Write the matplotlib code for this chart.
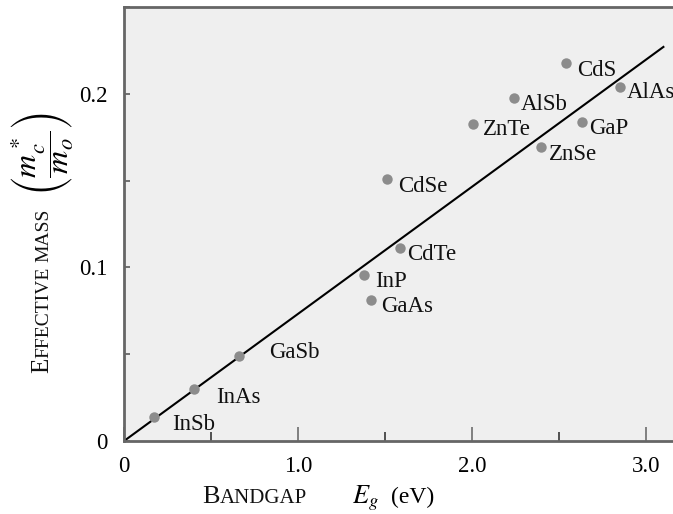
import matplotlib
matplotlib.use('Agg')
import matplotlib.pyplot as plt
import matplotlib.transforms as mtransforms
from matplotlib.ticker import MultipleLocator

plt.rcParams['font.family'] = ['Liberation Serif', 'DejaVu Serif']
plt.rcParams['mathtext.fontset'] = 'stix'

compounds = ['InSb', 'InAs', 'GaSb', 'InP', 'GaAs', 'CdTe', 'CdSe',
             'ZnTe', 'AlSb', 'ZnSe', 'CdS', 'GaP', 'AlAs']
bandgap = [0.174, 0.402, 0.661, 1.381, 1.420, 1.586, 1.513,
           2.007, 2.241, 2.395, 2.539, 2.630, 2.851]
eff_mass = [0.0139, 0.0302, 0.0488, 0.0954, 0.0815, 0.1113, 0.1508,
            0.1825, 0.1973, 0.1694, 0.2177, 0.1835, 0.2037]
fit_x = [0.0, 3.1]
fit_y = [0.0, 0.227]

# label offsets from the dot, in pixels
label_offset = {
    'InSb': (18, -8), 'InAs': (22, -9), 'GaSb': (30, 4), 'InP': (11, -6),
    'GaAs': (10, -7), 'CdTe': (7, -7), 'CdSe': (11, -7), 'ZnTe': (10, -5),
    'AlSb': (7, -6), 'ZnSe': (8, -8), 'CdS': (11, -7), 'GaP': (8, -6),
    'AlAs': (7, -5),
}

W, H = 673, 514
fig = plt.figure(figsize=(W / 100, H / 100), dpi=100)
ax = fig.add_axes([124 / W, 73 / H, 3.2 * 174 / W, 434 / H])
ax.set_facecolor('#efefef')

ax.plot(fit_x, fit_y, color='black', lw=1.5, zorder=2)
ax.plot(bandgap, eff_mass, 'o', color='#8c8c8c', ms=7.5, mec='none', zorder=3)
for name, x, y in zip(compounds, bandgap, eff_mass):
    dx, dy = label_offset[name]
    ax.annotate(name, (x, y), xytext=(dx, dy), textcoords='offset pixels',
                ha='left', va='center', fontsize=16.5, color='#111111')

ax.set_xlim(0, 3.2)
ax.set_ylim(0, 0.25)
ax.xaxis.set_minor_locator(MultipleLocator(0.5))
ax.yaxis.set_minor_locator(MultipleLocator(0.05))
ax.set_xticks([0, 1, 2, 3])
ax.set_xticklabels(['0', '1.0', '2.0', '3.0'])
ax.set_yticks([0, 0.1, 0.2])
ax.set_yticklabels(['0', '0.1', '0.2'])
ax.tick_params(axis='x', which='major', direction='in', length=10, width=1.3,
               color='#777777', labelsize=16.5, pad=11)
ax.tick_params(axis='x', which='minor', direction='in', length=6.5, width=1.3,
               color='#444444')
ax.tick_params(axis='y', which='both', direction='in', length=4.5, width=1.3,
               color='#666666', labelsize=16.5, pad=12)
for side in ['left', 'bottom', 'top', 'right']:
    ax.spines[side].set_color('#666666')
    ax.spines[side].set_linewidth(2)

renderer = fig.canvas.get_renderer()
pix = mtransforms.IdentityTransform()


def caps_label(x, y, parts, vertical=False):
    # lay out pieces one after another so small caps can be faked
    for s, size in parts:
        t = fig.text(x, y, s, transform=pix, fontsize=size, color='#111111',
                     rotation=90 if vertical else 0, rotation_mode='anchor',
                     ha='left', va='baseline')
        bb = t.get_window_extent(renderer)
        if vertical:
            y = bb.y1
        else:
            x = bb.x1
    return x, y


caps_label(202, 11, [('B', 19), ('ANDGAP', 15)])
fig.text(352, 11, r'$E_g$', transform=pix, fontsize=19, ha='left', va='baseline')
fig.text(391, 11, '(eV)', transform=pix, fontsize=17, ha='left', va='baseline')

_, ytop = caps_label(48, 141, [('E', 18), ('FFECTIVE', 14),
                               (' ', 14), ('MASS', 14)], vertical=True)
fig.text(42, ytop + 12, r'$\left(\dfrac{m_c^*}{m_o}\right)$', transform=pix,
         fontsize=23, rotation=90, rotation_mode='anchor',
         ha='left', va='center')

fig.savefig('out.png', dpi=100)
